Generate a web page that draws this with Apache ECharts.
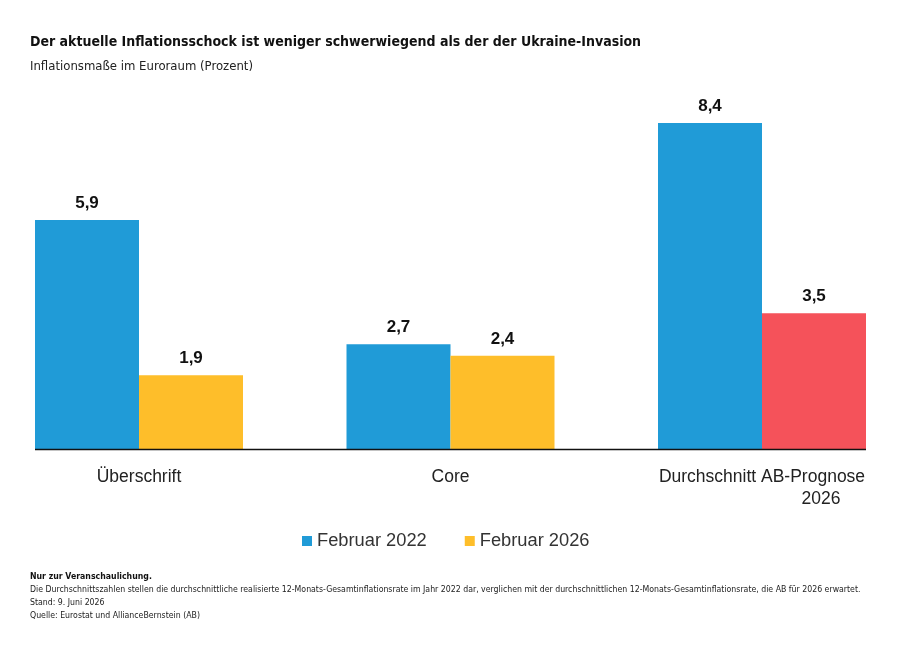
<!DOCTYPE html>
<html>
<head>
<meta charset="utf-8">
<script src="https://cdn.jsdelivr.net/npm/echarts@6/dist/echarts.min.js"></script>
<style>
  html, body { margin: 0; padding: 0; background: #fff; }
  #chart { width: 910px; height: 667px; }
</style>
</head>
<body>
<div id="chart"></div>
<script>
const categories = ['Überschrift', 'Core', 'Durchschnitt AB-Prognose 2026'];
const seriesNames = ['Februar 2022', 'Februar 2026'];
const feb2022 = [5.9, 2.7, 8.4];
const feb2026 = [1.9, 2.4, 3.5];

const BLUE = '#209bd7';
const YELLOW = '#febe2a';
const RED = '#f5525a';

const chart = echarts.init(document.getElementById('chart'));

const fmt = p => p.value.toFixed(1).replace('.', ',');
const valueLabel = {
  show: true,
  position: 'top',
  distance: 8,
  formatter: fmt,
  fontFamily: 'Liberation Sans, Arial, sans-serif',
  fontWeight: 'bold',
  fontSize: 17,
  color: '#111'
};

const footFont = '"Liberation Sans Narrow", "DejaVu Sans Condensed", sans-serif';

const option = {
  animation: false,
  textStyle: { fontFamily: 'Liberation Sans, Arial, sans-serif' },
  title: [
    {
      text: 'Der aktuelle Inflationsschock ist weniger schwerwiegend als der der Ukraine-Invasion',
      left: 30, top: 35, padding: 0,
      textStyle: { fontFamily: 'DejaVu Sans Condensed', fontWeight: 'bold', fontSize: 14, color: '#111' }
    },
    {
      text: 'Inflationsmaße im Euroraum (Prozent)',
      left: 30, top: 60, padding: 0,
      textStyle: { fontFamily: 'DejaVu Sans Condensed', fontWeight: 'normal', fontSize: 13, color: '#222' }
    }
  ],
  legend: {
    data: seriesNames,
    top: 527,
    left: 297,
    icon: 'rect',
    itemWidth: 10,
    itemHeight: 10,
    itemGap: 38,
    textStyle: { fontSize: 18.3, color: '#333', fontFamily: 'Liberation Sans, Arial, sans-serif' }
  },
  grid: { left: 139, right: 148, top: 123, bottom: 218, containLabel: false },
  xAxis: {
    type: 'category',
    data: categories,
    boundaryGap: false,
    axisLine: { show: false },
    axisTick: { show: false },
    axisLabel: {
      margin: 17,
      interval: 0,
      fontSize: 17.5,
      color: '#222',
      lineHeight: 22,
      formatter: v => v === 'Durchschnitt AB-Prognose 2026'
        ? 'Durchschnitt AB-Prognose\n{y|2026}'
        : v,
      rich: {
        y: { fontSize: 17.5, color: '#222', padding: [0, 0, 0, 118] }
      }
    }
  },
  yAxis: {
    type: 'value',
    min: 0,
    max: 8.4,
    show: false
  },
  graphic: [
    {
      type: 'line',
      shape: { x1: 35, y1: 449.5, x2: 866, y2: 449.5 },
      style: { stroke: '#111', lineWidth: 1.5 },
      z: 10
    },
    {
      type: 'group',
      left: 30, top: 572,
      children: [
        { type: 'text', style: { text: 'Nur zur Veranschaulichung.', x: 0, y: 0, font: 'bold 8.7px ' + footFont, fill: '#111' } },
        { type: 'text', style: { text: 'Die Durchschnittszahlen stellen die durchschnittliche realisierte 12-Monats-Gesamtinflationsrate im Jahr 2022 dar, verglichen mit der durchschnittlichen 12-Monats-Gesamtinflationsrate, die AB für 2026 erwartet.', x: 0, y: 13, font: '8.7px ' + footFont, fill: '#222' } },
        { type: 'text', style: { text: 'Stand: 9. Juni 2026', x: 0, y: 26, font: '8.7px ' + footFont, fill: '#222' } },
        { type: 'text', style: { text: 'Quelle: Eurostat und AllianceBernstein (AB)', x: 0, y: 39, font: '8.7px ' + footFont, fill: '#222' } }
      ]
    }
  ],
  series: [
    {
      name: seriesNames[0],
      type: 'bar',
      data: feb2022,
      barWidth: 104,
      barGap: '0%',
      itemStyle: { color: BLUE },
      label: valueLabel
    },
    {
      name: seriesNames[1],
      type: 'bar',
      data: feb2026.map((v, i) => i === 2 ? { value: v, itemStyle: { color: RED } } : v),
      barWidth: 104,
      barGap: '0%',
      itemStyle: { color: YELLOW },
      label: valueLabel
    }
  ]
};

chart.setOption(option);
</script>
</body>
</html>
